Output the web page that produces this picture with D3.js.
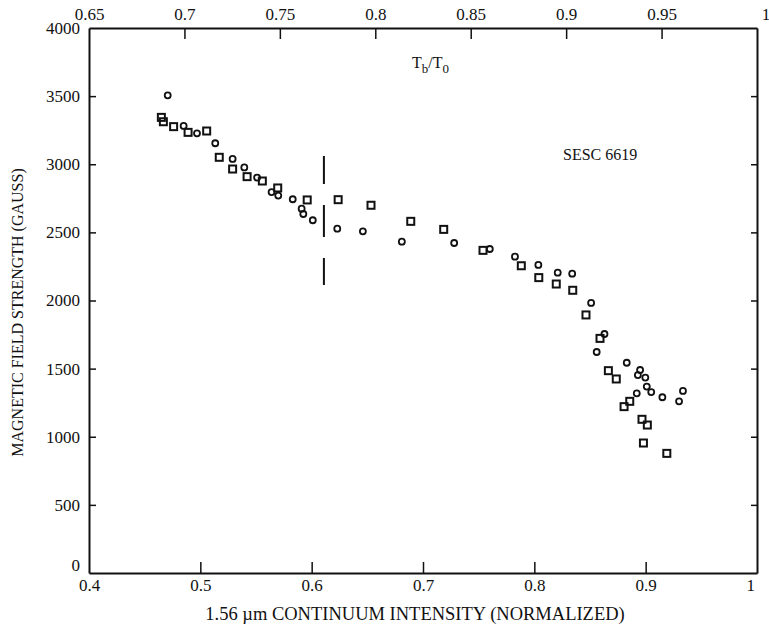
<!DOCTYPE html>
<html>
<head>
<meta charset="utf-8">
<script src="https://cdn.jsdelivr.net/npm/d3@7"></script>
<style>
  body { margin: 0; background: #fff; }
  svg text { font-family: "Liberation Serif", "DejaVu Serif", serif; fill: #111; }
</style>
</head>
<body>
<div id="chart"></div>
<script>
// circles: [intensity, gauss]
const circleData = [
  [0.4707, 3506], [0.485, 3281], [0.497, 3227], [0.5134, 3154], [0.529, 3039],
  [0.5395, 2977], [0.551, 2902], [0.564, 2796], [0.570, 2770], [0.583, 2743],
  [0.591, 2674], [0.5925, 2635], [0.601, 2589], [0.623, 2527], [0.646, 2508],
  [0.681, 2432], [0.728, 2422], [0.760, 2378], [0.7826, 2322], [0.8036, 2261],
  [0.821, 2204], [0.834, 2197], [0.851, 1982], [0.863, 1754], [0.856, 1622],
  [0.883, 1543], [0.895, 1490], [0.893, 1453], [0.8997, 1434], [0.901, 1368],
  [0.905, 1328], [0.892, 1319], [0.915, 1290], [0.9335, 1336], [0.930, 1260]
];
// squares: [intensity, gauss]
const squareData = [
  [0.465, 3344], [0.4668, 3312], [0.476, 3276], [0.489, 3234], [0.5057, 3244],
  [0.517, 3051], [0.529, 2965], [0.542, 2909], [0.5557, 2877], [0.5695, 2826],
  [0.596, 2738], [0.6238, 2740], [0.6533, 2699], [0.689, 2581], [0.7186, 2522],
  [0.7539, 2368], [0.7883, 2255], [0.804, 2168], [0.8197, 2121], [0.8345, 2075],
  [0.8464, 1894], [0.859, 1722], [0.8665, 1485], [0.8736, 1424], [0.8857, 1260],
  [0.8806, 1221], [0.8967, 1128], [0.9015, 1086], [0.898, 954], [0.919, 878]
];
const bottomTicks = [0.4, 0.5, 0.6, 0.7, 0.8, 0.9, 1];
const topTicks = [0.65, 0.7, 0.75, 0.8, 0.85, 0.9, 0.95, 1];
const yTicks = [0, 500, 1000, 1500, 2000, 2500, 3000, 3500, 4000];
// dashed marker line [x, yFrom, yTo]
const markerLine = [0.611, 2114, 3060];

const width = 769, height = 628;
const margin = {top: 28, right: 12, bottom: 55, left: 89};
const innerW = width - margin.left - margin.right,
      innerH = height - margin.top - margin.bottom;

const svg = d3.select('#chart').append('svg')
  .attr('width', width).attr('height', height);
const g = svg.append('g').attr('transform', `translate(${margin.left},${margin.top})`);

const x = d3.scaleLinear().domain([0.4, 1]).range([0, innerW]);
const xTop = d3.scaleLinear().domain([0.65, 1]).range([0, innerW]);
const y = d3.scaleLinear().domain([0, 4000]).range([innerH, 0]);

// axes with inward ticks
const fmt = d3.format('');
const bottomAxis = g.append('g').attr('transform', `translate(0,${innerH})`)
  .call(d3.axisBottom(x).tickValues(bottomTicks).tickFormat(fmt).tickSizeInner(-11).tickSizeOuter(0).tickPadding(6));
const topAxis = g.append('g')
  .call(d3.axisTop(xTop).tickValues(topTicks).tickFormat(fmt).tickSizeInner(-11).tickSizeOuter(0).tickPadding(8));
const leftAxis = g.append('g')
  .call(d3.axisLeft(y).tickValues(yTicks).tickFormat(d3.format('d')).tickSizeInner(-7).tickSizeOuter(0).tickPadding(9));
const rightAxis = g.append('g').attr('transform', `translate(${innerW},0)`)
  .call(d3.axisRight(y).tickValues(yTicks).tickSizeInner(-6).tickSizeOuter(0).tickFormat(''));

[bottomAxis, topAxis, leftAxis, rightAxis].forEach(a => {
  a.select('.domain').attr('stroke', '#111').attr('stroke-width', 2);
  a.selectAll('.tick line').attr('stroke', '#111').attr('stroke-width', 1.5);
  a.selectAll('.tick text').style('font-size', '17px')
    .style('font-family', '"Liberation Serif", serif').attr('fill', '#111');
});
// hide end ticks that overlap the frame
bottomAxis.selectAll('.tick line').filter(d => d === 0.4 || d === 1).remove();
topAxis.selectAll('.tick line').filter(d => d === 0.65 || d === 1).remove();
leftAxis.selectAll('.tick line').filter(d => d === 0 || d === 4000).remove();
rightAxis.selectAll('.tick line').filter(d => d === 0 || d === 4000).remove();
// nudge corner labels like the original
leftAxis.selectAll('.tick text').filter(d => d === 0).attr('dy', '-0.15em');
topAxis.selectAll('.tick text').filter(d => d === 1).attr('dx', '0.5em');
bottomAxis.selectAll('.tick text').filter(d => d === 1).attr('dx', '-0.4em');

// dashed vertical marker
g.append('line')
  .attr('x1', x(markerLine[0])).attr('x2', x(markerLine[0]))
  .attr('y1', y(markerLine[2])).attr('y2', y(markerLine[1]))
  .attr('stroke', '#111').attr('stroke-width', 2)
  .attr('stroke-dasharray', '28,21,32,21');

// points
g.selectAll('circle.pt').data(circleData).join('circle')
  .attr('class', 'pt')
  .attr('cx', d => x(d[0])).attr('cy', d => y(d[1])).attr('r', 3)
  .attr('fill', 'none').attr('stroke', '#111').attr('stroke-width', 1.8);

const s = 7;
g.selectAll('rect.pt').data(squareData).join('rect')
  .attr('class', 'pt')
  .attr('x', d => x(d[0]) - s / 2).attr('y', d => y(d[1]) - s / 2)
  .attr('width', s).attr('height', s)
  .attr('fill', 'none').attr('stroke', '#111').attr('stroke-width', 2);

// labels
svg.append('text')
  .attr('x', 415).attr('y', 620)
  .attr('text-anchor', 'middle').style('font-size', '18.5px')
  .text('1.56 \u00b5m CONTINUUM INTENSITY (NORMALIZED)');

svg.append('text')
  .attr('transform', `translate(23,${margin.top + innerH / 2 + 12}) rotate(-90)`)
  .attr('text-anchor', 'middle').style('font-size', '16px')
  .text('MAGNETIC FIELD STRENGTH (GAUSS)');

const tb = svg.append('text').attr('x', 412).attr('y', 68).style('font-size', '16px');
tb.append('tspan').text('T');
tb.append('tspan').attr('dy', 5).style('font-size', '13px').text('b');
tb.append('tspan').attr('dy', -5).text('/T');
tb.append('tspan').attr('dy', 5).style('font-size', '13px').text('0');

svg.append('text').attr('x', 563).attr('y', 160).style('font-size', '16px').text('SESC 6619');
</script>
</body>
</html>
